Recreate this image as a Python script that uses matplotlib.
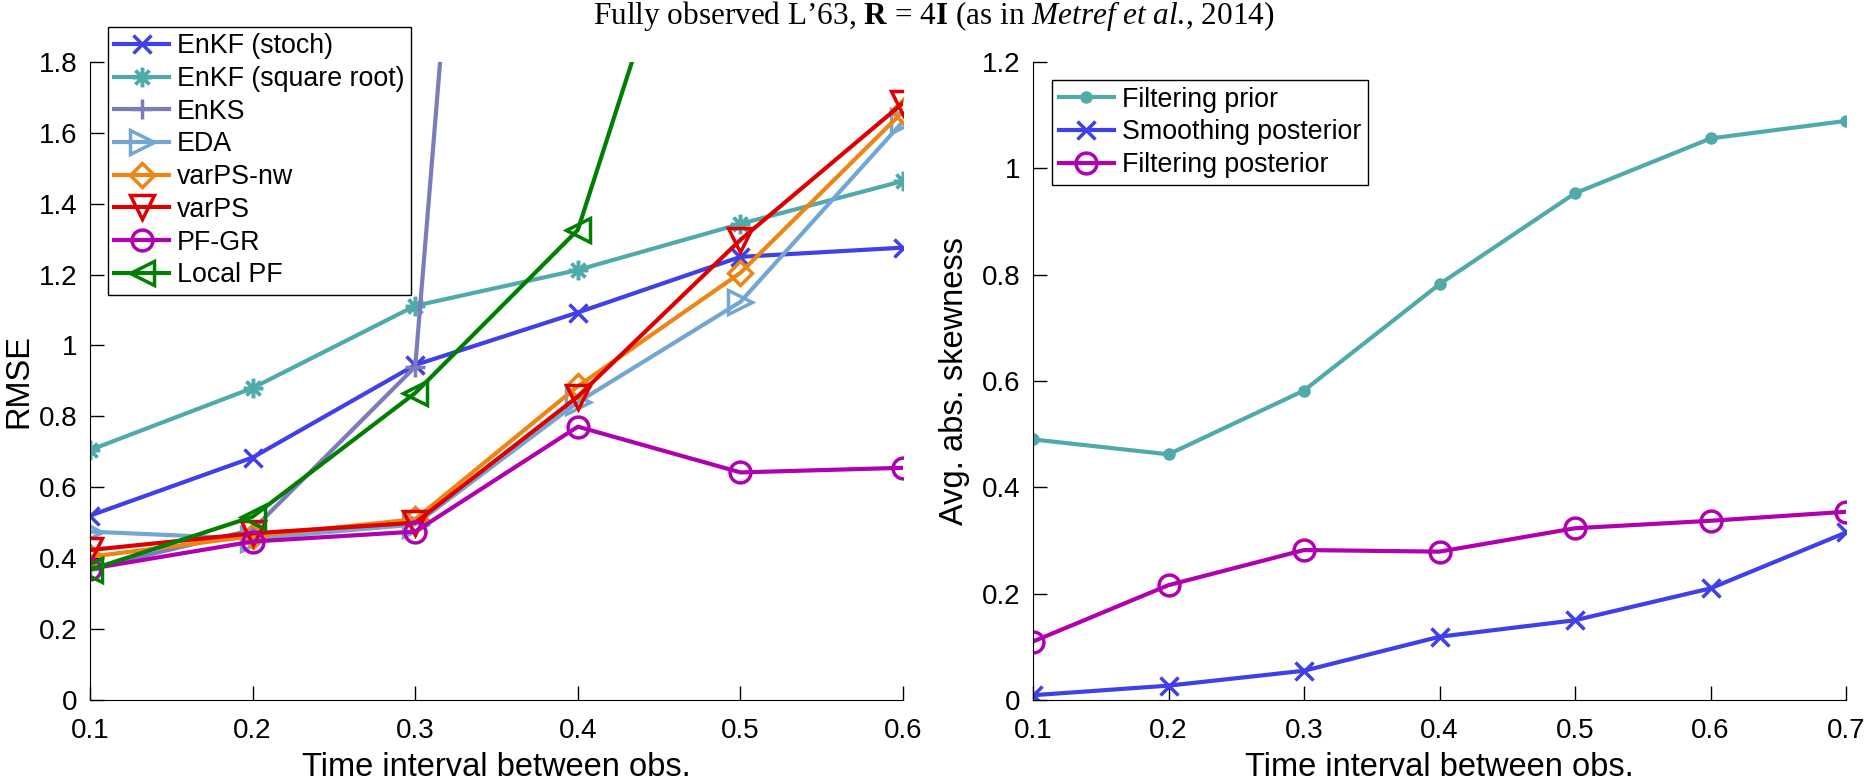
import matplotlib
matplotlib.use('Agg')
import matplotlib.pyplot as plt
from matplotlib.ticker import FormatStrFormatter, MultipleLocator

# Donnees
x_gauche = [0.1, 0.2, 0.3, 0.4, 0.5, 0.6]
enkf_stoch = [0.52, 0.684, 0.945, 1.093, 1.25, 1.276]
enkf_sqrt = [0.705, 0.88, 1.112, 1.213, 1.343, 1.464]
enks = [0.37, 0.48, 0.94, 6.56, 7.2, 7.8]
eda = [0.475, 0.455, 0.495, 0.84, 1.123, 1.632]
varps_nw = [0.404, 0.462, 0.51, 0.885, 1.205, 1.66]
varps = [0.423, 0.47, 0.50, 0.856, 1.298, 1.684]
pf_gr = [0.37, 0.447, 0.475, 0.771, 0.642, 0.655]
local_pf = [0.367, 0.517, 0.866, 1.326, 2.75, 3.5]

x_droite = [0.1, 0.2, 0.3, 0.4, 0.5, 0.6, 0.7]
filt_prior = [0.49, 0.462, 0.582, 0.782, 0.953, 1.056, 1.089]
smooth_post = [0.009, 0.027, 0.055, 0.119, 0.150, 0.21, 0.315]
filt_post = [0.11, 0.216, 0.282, 0.279, 0.323, 0.337, 0.354]

plt.rcParams['font.family'] = ['Liberation Sans', 'DejaVu Sans']
plt.rcParams['mathtext.fontset'] = 'custom'
plt.rcParams['mathtext.rm'] = 'Liberation Serif'
plt.rcParams['mathtext.bf'] = 'Liberation Serif:bold'
plt.rcParams['mathtext.it'] = 'Liberation Serif:italic'

fig = plt.figure(figsize=(18.67, 7.83), dpi=100)
ax1 = fig.add_axes([0.0482, 0.106, 0.4355, 0.815])
ax2 = fig.add_axes([0.5533, 0.106, 0.4355, 0.815])

lw = 3
mew = 2.5
series = [
    ("EnKF (stoch)", enkf_stoch, '#4040E8', 'x', 13),
    ("EnKF (square root)", enkf_sqrt, '#50AAAA', (8, 2, 0), 14),
    ("EnKS", enks, '#7B7BBD', '+', 15),
    ("EDA", eda, '#74A6D2', '>', 17),
    ("varPS-nw", varps_nw, '#EE8411', 'D', 12),
    ("varPS", varps, '#DD0000', 'v', 17),
    ("PF-GR", pf_gr, '#B000B0', 'o', 15),
    ("Local PF", local_pf, '#007F00', '<', 17),
]
for nom, y, c, m, ms in series:
    ax1.plot(x_gauche, y, color=c, lw=lw, marker=m, ms=ms, mew=mew,
             mfc='none' if m in ('>', 'D', 'v', 'o', '<') else c,
             mec=c, label=nom)

ax2.plot(x_droite, filt_prior, color='#50AAAA', lw=lw, marker='o', ms=8,
         mfc='#50AAAA', mec='#50AAAA', label='Filtering prior')
ax2.plot(x_droite, smooth_post, color='#4040E8', lw=lw, marker='x', ms=13,
         mew=mew, label='Smoothing posterior')
ax2.plot(x_droite, filt_post, color='#B000B0', lw=lw, marker='o', ms=15,
         mew=mew, mfc='none', label='Filtering posterior')

ax1.set_xlim(0.1, 0.6)
ax1.set_ylim(0, 1.8)
ax1.yaxis.set_major_locator(MultipleLocator(0.2))
ax2.set_xlim(0.1, 0.7)
ax2.set_ylim(0, 1.2)
ax2.yaxis.set_major_locator(MultipleLocator(0.2))

for ax in (ax1, ax2):
    ax.xaxis.set_major_locator(MultipleLocator(0.1))
    ax.xaxis.set_major_formatter(FormatStrFormatter('%g'))
    ax.yaxis.set_major_formatter(FormatStrFormatter('%g'))
    ax.spines['top'].set_visible(False)
    ax.spines['right'].set_visible(False)
    ax.tick_params(direction='in', length=10, width=1, labelsize=20)
    ax.tick_params(axis='x', pad=13)
    ax.tick_params(axis='y', pad=9)
    ax.set_xlabel('Time interval between obs.', fontsize=23.5, labelpad=6)

ax1.set_ylabel('RMSE', fontsize=23.5)
ax2.set_ylabel('Avg. abs. skewness', fontsize=23.5)
ax1.yaxis.set_label_coords(-0.069, 0.5)
ax2.yaxis.set_label_coords(-0.077, 0.5)

leg_opts = dict(loc='upper left', bbox_transform=fig.transFigure,
                borderaxespad=0, fancybox=False, framealpha=1,
                edgecolor='black', fontsize=19.3, handlelength=2.05,
                handletextpad=0.3, borderpad=0.25, labelspacing=0.25)
l1 = ax1.legend(bbox_to_anchor=(0.0576, 0.966), **leg_opts)
l2 = ax2.legend(bbox_to_anchor=(0.5635, 0.8978), **leg_opts)
for l in (l1, l2):
    l.get_frame().set_linewidth(1)

fig.text(0.5, 1 - 24 / 783,
         r"Fully observed L’63, $\mathbf{R}$ = 4$\mathbf{I}$ (as in $\mathit{Metref\ et\ al.}\!$, 2014)",
         ha='center', va='baseline', fontsize=22.5, family='Liberation Serif')

fig.savefig('out.png', dpi=100)
